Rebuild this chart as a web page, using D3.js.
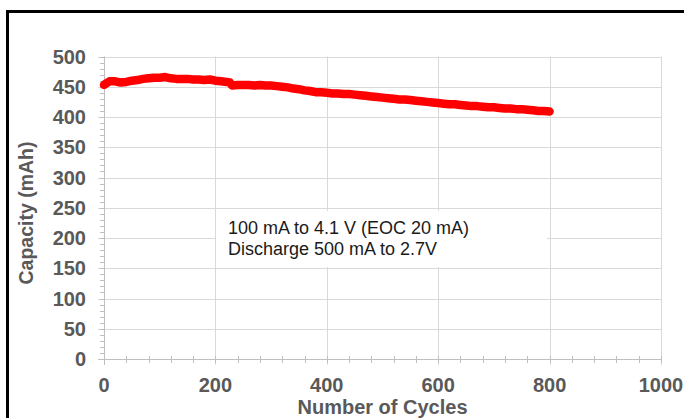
<!DOCTYPE html>
<html>
<head>
<meta charset="utf-8">
<script src="https://cdn.jsdelivr.net/npm/d3@7"></script>
<style>
  html, body { margin: 0; padding: 0; background: #fff; }
  svg { display: block; }
  text { font-family: "Liberation Sans", Arial, sans-serif; }
</style>
</head>
<body>
<svg id="chart" width="684" height="418"></svg>
<script>
// ---- data ----
const cycles = [0,10,20,30,40,50,60,70,80,90,100,110,120,130,140,150,160,170,180,190,200,210,220,226,230,240,250,260,270,280,290,300,310,320,330,340,350,360,370,380,390,400,410,420,430,440,450,460,470,480,490,500,510,520,530,540,550,560,570,580,590,600,610,620,630,640,650,660,670,680,690,700,710,720,730,740,750,760,770,780,790,800];
const capacity = [453,459,459,457,458,460,461,463,464,465,465,466,464,463,463,463,462,462,461,462,460,459,458,457,452,453,453,453,452,453,452,452,451,450,449,447,446,444,443,441,441,440,439,439,438,438,437,436,435,434,433,432,431,430,429,429,428,427,426,425,424,423,422,421,421,420,419,418,418,417,416,416,415,414,414,413,413,412,411,410,410,409];
const xTicks = [0,200,400,600,800,1000];
const yTicks = [0,50,100,150,200,250,300,350,400,450,500];
const xTitle = "Number of Cycles";
const yTitle = "Capacity (mAh)";
const noteLines = ["100 mA to 4.1 V (EOC 20 mA)", "Discharge 500 mA to 2.7V"];

// ---- layout ----
const svg = d3.select("#chart");
const x = d3.scaleLinear().domain([0, 1000]).range([104, 661]);
const y = d3.scaleLinear().domain([0, 500]).range([359, 56.5]);
const gridColor = "#d9d9d9";
const axisColor = "#bfbfbf";
const labelColor = "#595959";

// outer frame
svg.append("rect").attr("x", 7.5).attr("y", 11.5).attr("width", 700).attr("height", 430)
  .attr("fill", "none").attr("stroke", "#000").attr("stroke-width", 3);

// gridlines
const g = svg.append("g");
g.selectAll("line.hg").data(yTicks.filter(d => d > 0)).join("line")
  .attr("x1", 98).attr("x2", x(1000))
  .attr("y1", d => Math.round(y(d)) + 0.5).attr("y2", d => Math.round(y(d)) + 0.5)
  .attr("stroke", gridColor).attr("stroke-width", 1);
g.selectAll("line.vg").data(xTicks.filter(d => d > 0)).join("line")
  .attr("x1", d => Math.round(x(d)) + 0.5).attr("x2", d => Math.round(x(d)) + 0.5)
  .attr("y1", y(500)).attr("y2", 365)
  .attr("stroke", gridColor).attr("stroke-width", 1);

// minor ticks
const yMinor = d3.range(0, 501, 10);
g.selectAll("line.ym").data(yMinor).join("line")
  .attr("x1", 100).attr("x2", 104)
  .attr("y1", d => Math.round(y(d)) + 0.5).attr("y2", d => Math.round(y(d)) + 0.5)
  .attr("stroke", axisColor);
const xMinor = d3.range(0, 1001, 40);
g.selectAll("line.xm").data(xMinor).join("line")
  .attr("x1", d => Math.round(x(d)) + 0.5).attr("x2", d => Math.round(x(d)) + 0.5)
  .attr("y1", 356).attr("y2", 363)
  .attr("stroke", axisColor);

// axis lines
g.append("line").attr("x1", 98).attr("x2", x(1000)).attr("y1", 359.5).attr("y2", 359.5).attr("stroke", axisColor);
g.append("line").attr("x1", 104.5).attr("x2", 104.5).attr("y1", y(500)).attr("y2", 365).attr("stroke", axisColor);

// tick labels
svg.append("g").selectAll("text").data(yTicks).join("text")
  .attr("x", 86).attr("y", d => y(d) + 7)
  .attr("text-anchor", "end").attr("font-size", 20).attr("font-weight", "bold")
  .attr("fill", labelColor).text(d => d);
svg.append("g").selectAll("text").data(xTicks).join("text")
  .attr("x", d => x(d)).attr("y", 392)
  .attr("text-anchor", "middle").attr("font-size", 20).attr("font-weight", "bold")
  .attr("fill", labelColor).text(d => d);

// axis titles
svg.append("text").attr("x", 382.5).attr("y", 414).attr("text-anchor", "middle")
  .attr("font-size", 20).attr("font-weight", "bold").attr("fill", labelColor).text(xTitle);
svg.append("text").attr("transform", "translate(33,213) rotate(-90)").attr("text-anchor", "middle")
  .attr("font-size", 19.5).attr("font-weight", "bold").attr("fill", labelColor).text(yTitle);

// note box
svg.append("rect").attr("x", 216).attr("y", 211).attr("width", 331).attr("height", 56).attr("fill", "#fff");
svg.append("g").selectAll("text").data(noteLines).join("text")
  .attr("x", 228).attr("y", (d, i) => 234 + i * 21)
  .attr("font-size", 18).attr("fill", "#1a1a1a").text(d => d);

// data line
const pts = cycles.map((c, i) => [c, capacity[i]]);
svg.append("path").datum(pts)
  .attr("d", d3.line().x(d => x(d[0])).y(d => y(d[1])))
  .attr("fill", "none").attr("stroke", "#ff0000").attr("stroke-width", 8.5)
  .attr("stroke-linejoin", "round").attr("stroke-linecap", "round");
</script>
</body>
</html>
